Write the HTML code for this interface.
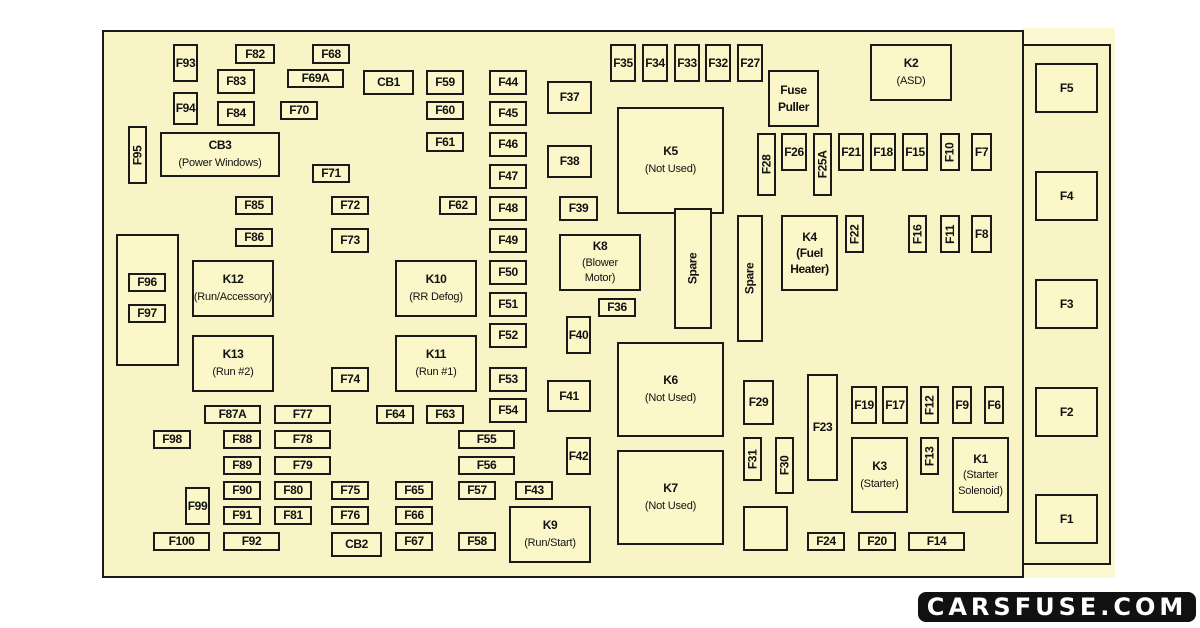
<!DOCTYPE html>
<html><head><meta charset="utf-8"><style>
body{margin:0;width:1200px;height:628px;background:#fff;position:relative;overflow:hidden;font-family:"Liberation Sans",sans-serif}
div{position:absolute;box-sizing:border-box}
.b{border:2px solid #1a1a1a;background:#fbf7c9;display:flex;align-items:center;justify-content:center;text-align:center;font-weight:bold;font-size:12px;color:#111;line-height:1.4;letter-spacing:-0.4px}
.b small{font-size:11px;font-weight:normal;letter-spacing:-0.2px}
.v span{transform:rotate(-90deg);white-space:nowrap}
</style></head><body>
<div style="left:1022px;top:28px;width:93px;height:550px;background:#fcf8d2"></div>
<div style="left:1018px;top:44px;width:93px;height:521px;border:2px solid #1a1a1a;background:#f9f4c6"></div>
<div style="left:102px;top:30px;width:922px;height:548px;border:2px solid #1a1a1a;background:#f9f4c6"></div>

<div class="b" style="left:1035px;top:63px;width:63px;height:50px">F5</div>
<div class="b" style="left:1035px;top:171px;width:63px;height:50px">F4</div>
<div class="b" style="left:1035px;top:279px;width:63px;height:50px">F3</div>
<div class="b" style="left:1035px;top:387px;width:63px;height:50px">F2</div>
<div class="b" style="left:1035px;top:494px;width:63px;height:50px">F1</div>

<div class="b" style="left:173px;top:44px;width:25px;height:38px">F93</div>
<div class="b" style="left:235px;top:44px;width:40px;height:20px">F82</div>
<div class="b" style="left:312px;top:44px;width:38px;height:20px">F68</div>
<div class="b" style="left:217px;top:69px;width:38px;height:25px">F83</div>
<div class="b" style="left:287px;top:69px;width:57px;height:19px">F69A</div>
<div class="b" style="left:363px;top:70px;width:51px;height:25px">CB1</div>
<div class="b" style="left:426px;top:70px;width:38px;height:25px">F59</div>
<div class="b" style="left:489px;top:70px;width:38px;height:25px">F44</div>
<div class="b" style="left:173px;top:92px;width:25px;height:33px">F94</div>
<div class="b" style="left:217px;top:101px;width:38px;height:25px">F84</div>
<div class="b" style="left:280px;top:101px;width:38px;height:19px">F70</div>
<div class="b" style="left:426px;top:101px;width:38px;height:19px">F60</div>
<div class="b" style="left:489px;top:101px;width:38px;height:25px">F45</div>
<div class="b v" style="left:128px;top:126px;width:19px;height:58px"><span>F95</span></div>
<div class="b" style="left:160px;top:132px;width:120px;height:45px"><span>CB3<br><small>(Power Windows)</small></span></div>
<div class="b" style="left:426px;top:132px;width:38px;height:20px">F61</div>
<div class="b" style="left:489px;top:132px;width:38px;height:25px">F46</div>
<div class="b" style="left:312px;top:164px;width:38px;height:19px">F71</div>
<div class="b" style="left:489px;top:164px;width:38px;height:25px">F47</div>
<div class="b" style="left:235px;top:196px;width:38px;height:19px">F85</div>
<div class="b" style="left:331px;top:196px;width:38px;height:19px">F72</div>
<div class="b" style="left:439px;top:196px;width:38px;height:19px">F62</div>
<div class="b" style="left:489px;top:196px;width:38px;height:25px">F48</div>
<div class="b" style="left:235px;top:228px;width:38px;height:19px">F86</div>
<div class="b" style="left:331px;top:228px;width:38px;height:25px">F73</div>
<div class="b" style="left:489px;top:228px;width:38px;height:25px">F49</div>
<div class="b" style="left:116px;top:234px;width:63px;height:132px"></div>
<div class="b" style="left:128px;top:273px;width:38px;height:19px">F96</div>
<div class="b" style="left:128px;top:304px;width:38px;height:19px">F97</div>
<div class="b" style="left:192px;top:260px;width:82px;height:57px"><span>K12<br><small>(Run/Accessory)</small></span></div>
<div class="b" style="left:395px;top:260px;width:82px;height:57px"><span>K10<br><small>(RR Defog)</small></span></div>
<div class="b" style="left:489px;top:260px;width:38px;height:25px">F50</div>
<div class="b" style="left:489px;top:292px;width:38px;height:25px">F51</div>
<div class="b" style="left:489px;top:323px;width:38px;height:25px">F52</div>
<div class="b" style="left:192px;top:335px;width:82px;height:57px"><span>K13<br><small>(Run #2)</small></span></div>
<div class="b" style="left:395px;top:335px;width:82px;height:57px"><span>K11<br><small>(Run #1)</small></span></div>
<div class="b" style="left:331px;top:367px;width:38px;height:25px">F74</div>
<div class="b" style="left:489px;top:367px;width:38px;height:25px">F53</div>
<div class="b" style="left:204px;top:405px;width:57px;height:19px">F87A</div>
<div class="b" style="left:274px;top:405px;width:57px;height:19px">F77</div>
<div class="b" style="left:376px;top:405px;width:38px;height:19px">F64</div>
<div class="b" style="left:426px;top:405px;width:38px;height:19px">F63</div>
<div class="b" style="left:489px;top:398px;width:38px;height:25px">F54</div>
<div class="b" style="left:153px;top:430px;width:38px;height:19px">F98</div>
<div class="b" style="left:223px;top:430px;width:38px;height:19px">F88</div>
<div class="b" style="left:274px;top:430px;width:57px;height:19px">F78</div>
<div class="b" style="left:458px;top:430px;width:57px;height:19px">F55</div>
<div class="b" style="left:223px;top:456px;width:38px;height:19px">F89</div>
<div class="b" style="left:274px;top:456px;width:57px;height:19px">F79</div>
<div class="b" style="left:458px;top:456px;width:57px;height:19px">F56</div>
<div class="b" style="left:185px;top:487px;width:25px;height:38px">F99</div>
<div class="b" style="left:223px;top:481px;width:38px;height:19px">F90</div>
<div class="b" style="left:274px;top:481px;width:38px;height:19px">F80</div>
<div class="b" style="left:331px;top:481px;width:38px;height:19px">F75</div>
<div class="b" style="left:395px;top:481px;width:38px;height:19px">F65</div>
<div class="b" style="left:458px;top:481px;width:38px;height:19px">F57</div>
<div class="b" style="left:515px;top:481px;width:38px;height:19px">F43</div>
<div class="b" style="left:223px;top:506px;width:38px;height:19px">F91</div>
<div class="b" style="left:274px;top:506px;width:38px;height:19px">F81</div>
<div class="b" style="left:331px;top:506px;width:38px;height:19px">F76</div>
<div class="b" style="left:395px;top:506px;width:38px;height:19px">F66</div>
<div class="b" style="left:509px;top:506px;width:82px;height:57px"><span>K9<br><small>(Run/Start)</small></span></div>
<div class="b" style="left:153px;top:532px;width:57px;height:19px">F100</div>
<div class="b" style="left:223px;top:532px;width:57px;height:19px">F92</div>
<div class="b" style="left:331px;top:532px;width:51px;height:25px">CB2</div>
<div class="b" style="left:395px;top:532px;width:38px;height:19px">F67</div>
<div class="b" style="left:458px;top:532px;width:38px;height:19px">F58</div>

<div class="b" style="left:610px;top:44px;width:26px;height:38px">F35</div>
<div class="b" style="left:642px;top:44px;width:26px;height:38px">F34</div>
<div class="b" style="left:674px;top:44px;width:26px;height:38px">F33</div>
<div class="b" style="left:705px;top:44px;width:26px;height:38px">F32</div>
<div class="b" style="left:737px;top:44px;width:26px;height:38px">F27</div>
<div class="b" style="left:547px;top:81px;width:45px;height:33px">F37</div>
<div class="b" style="left:768px;top:70px;width:51px;height:57px"><span>Fuse<br>Puller</span></div>
<div class="b" style="left:870px;top:44px;width:82px;height:57px"><span>K2<br><small>(ASD)</small></span></div>
<div class="b" style="left:617px;top:107px;width:107px;height:107px"><span>K5<br><small>(Not Used)</small></span></div>
<div class="b" style="left:547px;top:145px;width:45px;height:33px">F38</div>
<div class="b v" style="left:757px;top:133px;width:19px;height:63px"><span>F28</span></div>
<div class="b" style="left:781px;top:133px;width:26px;height:38px">F26</div>
<div class="b v" style="left:813px;top:133px;width:19px;height:63px"><span>F25A</span></div>
<div class="b" style="left:838px;top:133px;width:26px;height:38px">F21</div>
<div class="b" style="left:870px;top:133px;width:26px;height:38px">F18</div>
<div class="b" style="left:902px;top:133px;width:26px;height:38px">F15</div>
<div class="b v" style="left:940px;top:133px;width:20px;height:38px"><span>F10</span></div>
<div class="b" style="left:971px;top:133px;width:21px;height:38px">F7</div>
<div class="b" style="left:559px;top:196px;width:39px;height:25px">F39</div>
<div class="b v" style="left:674px;top:208px;width:38px;height:121px"><span>Spare</span></div>
<div class="b v" style="left:737px;top:215px;width:26px;height:127px"><span>Spare</span></div>
<div class="b" style="left:781px;top:215px;width:57px;height:76px;line-height:1.35"><span>K4<br>(Fuel<br>Heater)</span></div>
<div class="b v" style="left:845px;top:215px;width:19px;height:38px"><span>F22</span></div>
<div class="b v" style="left:908px;top:215px;width:19px;height:38px"><span>F16</span></div>
<div class="b v" style="left:940px;top:215px;width:20px;height:38px"><span>F11</span></div>
<div class="b" style="left:971px;top:215px;width:21px;height:38px">F8</div>
<div class="b" style="left:559px;top:234px;width:82px;height:57px;line-height:1.3"><span>K8<br><small>(Blower<br>Motor)</small></span></div>
<div class="b" style="left:598px;top:298px;width:38px;height:19px">F36</div>
<div class="b" style="left:566px;top:316px;width:25px;height:38px">F40</div>
<div class="b" style="left:617px;top:342px;width:107px;height:95px"><span>K6<br><small>(Not Used)</small></span></div>
<div class="b" style="left:547px;top:380px;width:44px;height:32px">F41</div>
<div class="b" style="left:743px;top:380px;width:31px;height:45px">F29</div>
<div class="b" style="left:807px;top:374px;width:31px;height:107px">F23</div>
<div class="b" style="left:851px;top:386px;width:26px;height:38px">F19</div>
<div class="b" style="left:882px;top:386px;width:26px;height:38px">F17</div>
<div class="b v" style="left:920px;top:386px;width:19px;height:38px"><span>F12</span></div>
<div class="b" style="left:952px;top:386px;width:20px;height:38px">F9</div>
<div class="b" style="left:984px;top:386px;width:20px;height:38px">F6</div>
<div class="b v" style="left:743px;top:437px;width:19px;height:44px"><span>F31</span></div>
<div class="b v" style="left:775px;top:437px;width:19px;height:57px"><span>F30</span></div>
<div class="b" style="left:851px;top:437px;width:57px;height:76px"><span>K3<br><small>(Starter)</small></span></div>
<div class="b v" style="left:920px;top:437px;width:19px;height:38px"><span>F13</span></div>
<div class="b" style="left:952px;top:437px;width:57px;height:76px;line-height:1.3"><span>K1<br><small>(Starter<br>Solenoid)</small></span></div>
<div class="b" style="left:566px;top:437px;width:25px;height:38px">F42</div>
<div class="b" style="left:617px;top:450px;width:107px;height:95px"><span>K7<br><small>(Not Used)</small></span></div>
<div class="b" style="left:743px;top:506px;width:45px;height:45px"></div>
<div class="b" style="left:807px;top:532px;width:38px;height:19px">F24</div>
<div class="b" style="left:858px;top:532px;width:38px;height:19px">F20</div>
<div class="b" style="left:908px;top:532px;width:57px;height:19px">F14</div>

<div style="left:918px;top:592px;width:278px;height:30px;background:#111;border-radius:8px;color:#fff;font-weight:bold;font-size:24px;letter-spacing:4px;display:flex;align-items:center;justify-content:center;font-family:'DejaVu Sans','Liberation Sans',sans-serif">CARSFUSE.COM</div>
</body></html>
